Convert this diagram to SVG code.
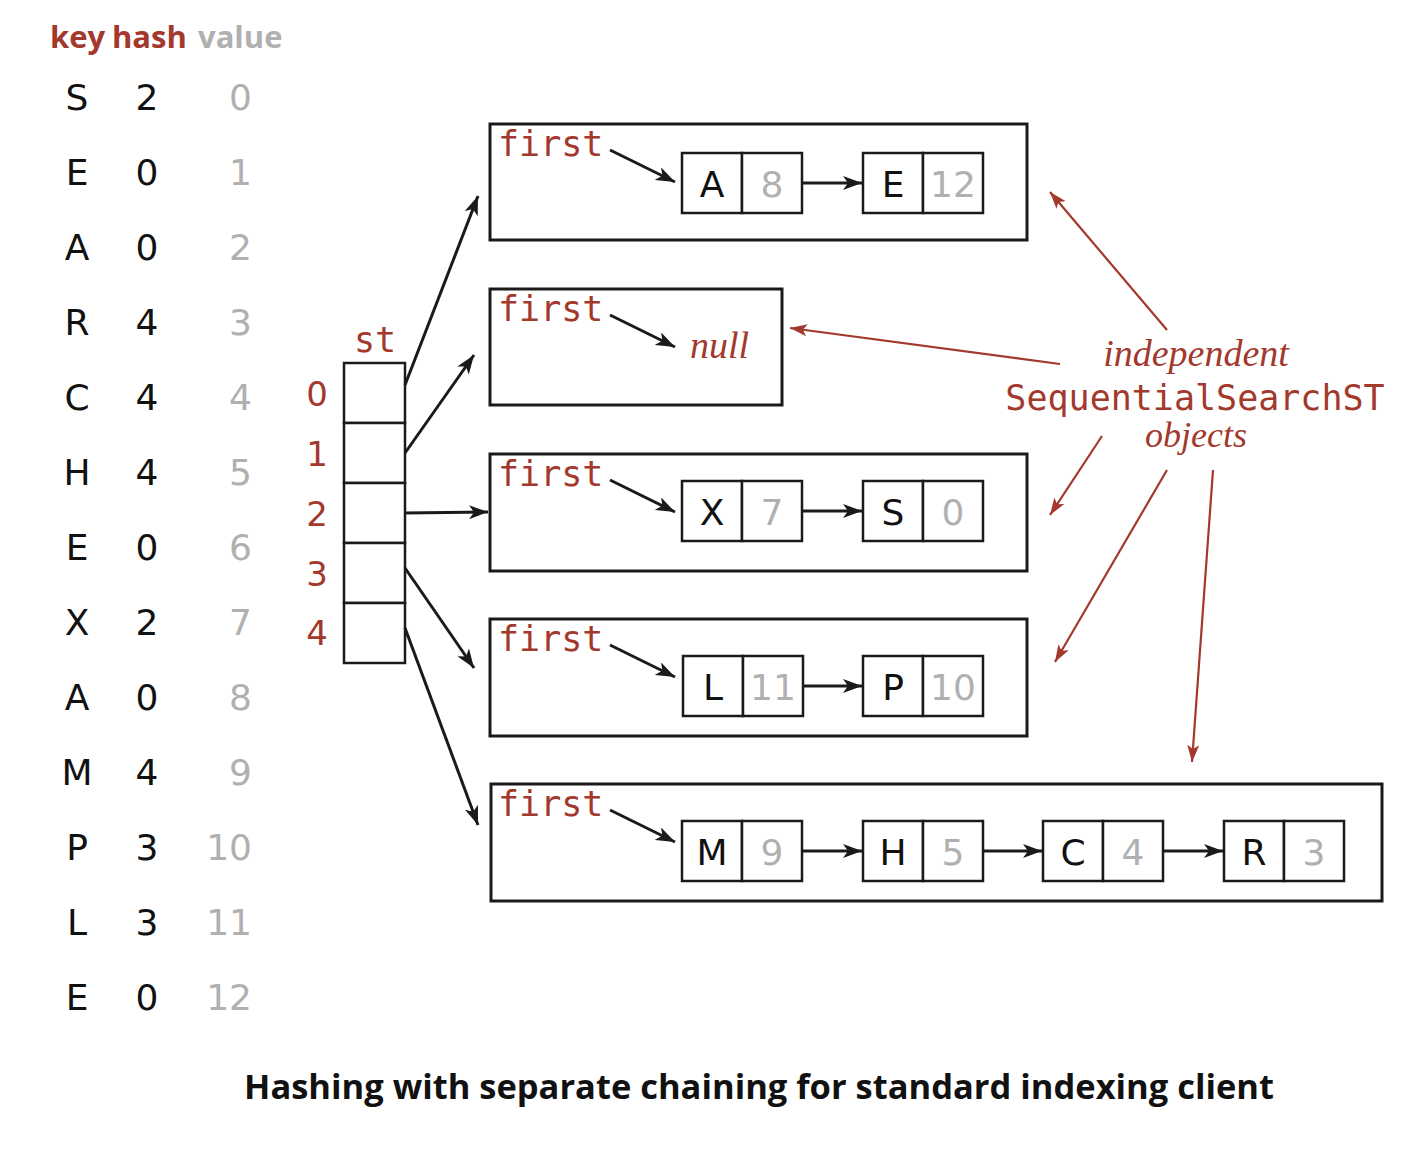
<svg xmlns="http://www.w3.org/2000/svg" width="1412" height="1150" viewBox="0 0 1412 1150">
<style>
.hdr{font-family:"Open Sans","DejaVu Sans",sans-serif;font-weight:bold;font-size:31px}
.red{fill:#A3382C}
.gray{fill:#B0B0B0}
.blk{fill:#111}
.row{font-family:"DejaVu Sans","Liberation Sans",sans-serif;font-size:36px}
.mono{font-family:"DejaVu Sans Mono","Liberation Mono",monospace;font-size:35px;fill:#A3382C}
.ital{font-family:"Liberation Serif","DejaVu Serif",serif;font-style:italic;font-size:38px;fill:#A3382C}
.box{fill:none;stroke:#1a1a1a;stroke-width:3}
.cell{fill:#fff;stroke:#1a1a1a;stroke-width:2.5}
.ntxt{font-family:"DejaVu Sans","Liberation Sans",sans-serif;font-size:36px;text-anchor:middle}
.ba{stroke:#1a1a1a;stroke-width:3;fill:none;marker-end:url(#ah)}
.ra{stroke:#A3382C;stroke-width:2.2;fill:none;marker-end:url(#rh)}
.cap{font-family:"Open Sans","Liberation Sans",sans-serif;font-weight:bold;font-size:34px;fill:#111}
</style>
<defs>
<marker id="ah" markerUnits="userSpaceOnUse" markerWidth="20" markerHeight="14" refX="19" refY="7" orient="auto">
<path d="M0,0 L19,7 L0,14 L5,7 z" fill="#1a1a1a"/>
</marker>
<marker id="rh" markerUnits="userSpaceOnUse" markerWidth="18" markerHeight="12" refX="17" refY="6" orient="auto">
<path d="M0,0 L17,6 L0,12 L4,6 z" fill="#A3382C"/>
</marker>
</defs>
<rect width="1412" height="1150" fill="#fff"/>

<g id="table">
<text class="hdr red" x="50" y="48">key</text>
<text class="hdr red" x="112" y="48">hash</text>
<text class="hdr gray" x="198" y="48">value</text>
<g class="row" text-anchor="middle">
<text class="blk" x="77" y="110">S</text><text class="blk" x="147" y="110">2</text>
<text class="blk" x="77" y="185">E</text><text class="blk" x="147" y="185">0</text>
<text class="blk" x="77" y="260">A</text><text class="blk" x="147" y="260">0</text>
<text class="blk" x="77" y="335">R</text><text class="blk" x="147" y="335">4</text>
<text class="blk" x="77" y="410">C</text><text class="blk" x="147" y="410">4</text>
<text class="blk" x="77" y="485">H</text><text class="blk" x="147" y="485">4</text>
<text class="blk" x="77" y="560">E</text><text class="blk" x="147" y="560">0</text>
<text class="blk" x="77" y="635">X</text><text class="blk" x="147" y="635">2</text>
<text class="blk" x="77" y="710">A</text><text class="blk" x="147" y="710">0</text>
<text class="blk" x="77" y="785">M</text><text class="blk" x="147" y="785">4</text>
<text class="blk" x="77" y="860">P</text><text class="blk" x="147" y="860">3</text>
<text class="blk" x="77" y="935">L</text><text class="blk" x="147" y="935">3</text>
<text class="blk" x="77" y="1010">E</text><text class="blk" x="147" y="1010">0</text>
</g>
<g class="row gray" text-anchor="end">
<text x="252" y="110">0</text>
<text x="252" y="185">1</text>
<text x="252" y="260">2</text>
<text x="252" y="335">3</text>
<text x="252" y="410">4</text>
<text x="252" y="485">5</text>
<text x="252" y="560">6</text>
<text x="252" y="635">7</text>
<text x="252" y="710">8</text>
<text x="252" y="785">9</text>
<text x="252" y="860">10</text>
<text x="252" y="935">11</text>
<text x="252" y="1010">12</text>
</g>
</g>

<g id="st">
<text class="mono" x="375" y="352" text-anchor="middle">st</text>
<rect class="cell" x="344" y="363" width="61" height="60"/>
<rect class="cell" x="344" y="423" width="61" height="60"/>
<rect class="cell" x="344" y="483" width="61" height="60"/>
<rect class="cell" x="344" y="543" width="61" height="60"/>
<rect class="cell" x="344" y="603" width="61" height="60"/>
<g class="row red" text-anchor="middle" style="font-size:34px">
<text x="317" y="406">0</text>
<text x="317" y="466">1</text>
<text x="317" y="526">2</text>
<text x="317" y="586">3</text>
<text x="317" y="645">4</text>
</g>
</g>

<g id="list0">
<rect class="box" x="490" y="124" width="537" height="116"/>
<text class="mono" x="498" y="156">first</text>
<rect class="cell" x="682" y="153" width="60" height="60"/><rect class="cell" x="742" y="153" width="60" height="60"/>
<text class="ntxt blk" x="712" y="197">A</text><text class="ntxt gray" x="772" y="197">8</text>
<rect class="cell" x="863" y="153" width="60" height="60"/><rect class="cell" x="923" y="153" width="60" height="60"/>
<text class="ntxt blk" x="893" y="197">E</text><text class="ntxt gray" x="953" y="197">12</text>
</g>

<g id="list1">
<rect class="box" x="490" y="289" width="292" height="116"/>
<text class="mono" x="498" y="321">first</text>
<text class="ital" x="690" y="358">null</text>
</g>

<g id="list2">
<rect class="box" x="490" y="454" width="537" height="117"/>
<text class="mono" x="498" y="486">first</text>
<rect class="cell" x="682" y="481" width="60" height="60"/><rect class="cell" x="742" y="481" width="60" height="60"/>
<text class="ntxt blk" x="712" y="525">X</text><text class="ntxt gray" x="772" y="525">7</text>
<rect class="cell" x="863" y="481" width="60" height="60"/><rect class="cell" x="923" y="481" width="60" height="60"/>
<text class="ntxt blk" x="893" y="525">S</text><text class="ntxt gray" x="953" y="525">0</text>
</g>

<g id="list3">
<rect class="box" x="490" y="619" width="537" height="117"/>
<text class="mono" x="498" y="651">first</text>
<rect class="cell" x="683" y="656" width="60" height="60"/><rect class="cell" x="743" y="656" width="60" height="60"/>
<text class="ntxt blk" x="713" y="700">L</text><text class="ntxt gray" x="773" y="700">11</text>
<rect class="cell" x="863" y="656" width="60" height="60"/><rect class="cell" x="923" y="656" width="60" height="60"/>
<text class="ntxt blk" x="893" y="700">P</text><text class="ntxt gray" x="953" y="700">10</text>
</g>

<g id="list4">
<rect class="box" x="491" y="784" width="891" height="117"/>
<text class="mono" x="498" y="816">first</text>
<rect class="cell" x="682" y="821" width="60" height="60"/><rect class="cell" x="742" y="821" width="60" height="60"/>
<text class="ntxt blk" x="712" y="865">M</text><text class="ntxt gray" x="772" y="865">9</text>
<rect class="cell" x="863" y="821" width="60" height="60"/><rect class="cell" x="923" y="821" width="60" height="60"/>
<text class="ntxt blk" x="893" y="865">H</text><text class="ntxt gray" x="953" y="865">5</text>
<rect class="cell" x="1043" y="821" width="60" height="60"/><rect class="cell" x="1103" y="821" width="60" height="60"/>
<text class="ntxt blk" x="1073" y="865">C</text><text class="ntxt gray" x="1133" y="865">4</text>
<rect class="cell" x="1224" y="821" width="60" height="60"/><rect class="cell" x="1284" y="821" width="60" height="60"/>
<text class="ntxt blk" x="1254" y="865">R</text><text class="ntxt gray" x="1314" y="865">3</text>
</g>

<g id="label">
<text class="ital" x="1196" y="366" text-anchor="middle">independent</text>
<text class="mono" x="1195" y="410" text-anchor="middle">SequentialSearchST</text>
<text class="ital" x="1196" y="447" text-anchor="middle" style="font-size:36px">objects</text>
</g>

<g id="connectors">
<line class="ba" x1="405" y1="385" x2="478" y2="196"/>
<line class="ba" x1="405" y1="453" x2="474" y2="355"/>
<line class="ba" x1="405" y1="513" x2="488" y2="512"/>
<line class="ba" x1="405" y1="568" x2="474" y2="668"/>
<line class="ba" x1="405" y1="628" x2="478" y2="825"/>
<line class="ba" x1="610" y1="150" x2="675" y2="182"/>
<line class="ba" x1="610" y1="315" x2="675" y2="347"/>
<line class="ba" x1="610" y1="480" x2="675" y2="512"/>
<line class="ba" x1="610" y1="645" x2="675" y2="677"/>
<line class="ba" x1="610" y1="810" x2="675" y2="842"/>
<line class="ba" x1="802" y1="183" x2="862" y2="183"/>
<line class="ba" x1="802" y1="511" x2="862" y2="511"/>
<line class="ba" x1="803" y1="686" x2="862" y2="686"/>
<line class="ba" x1="802" y1="851" x2="862" y2="851"/>
<line class="ba" x1="983" y1="851" x2="1042" y2="851"/>
<line class="ba" x1="1163" y1="851" x2="1223" y2="851"/>
<line class="ra" x1="1167" y1="330" x2="1050" y2="192"/>
<line class="ra" x1="1060" y1="364" x2="790" y2="328"/>
<line class="ra" x1="1102" y1="436" x2="1050" y2="515"/>
<line class="ra" x1="1167" y1="470" x2="1055" y2="662"/>
<line class="ra" x1="1213" y1="470" x2="1192" y2="762"/>
</g>

<text class="cap" x="759" y="1099" text-anchor="middle" textLength="1030" lengthAdjust="spacingAndGlyphs">Hashing with separate chaining for standard indexing client</text>
</svg>
